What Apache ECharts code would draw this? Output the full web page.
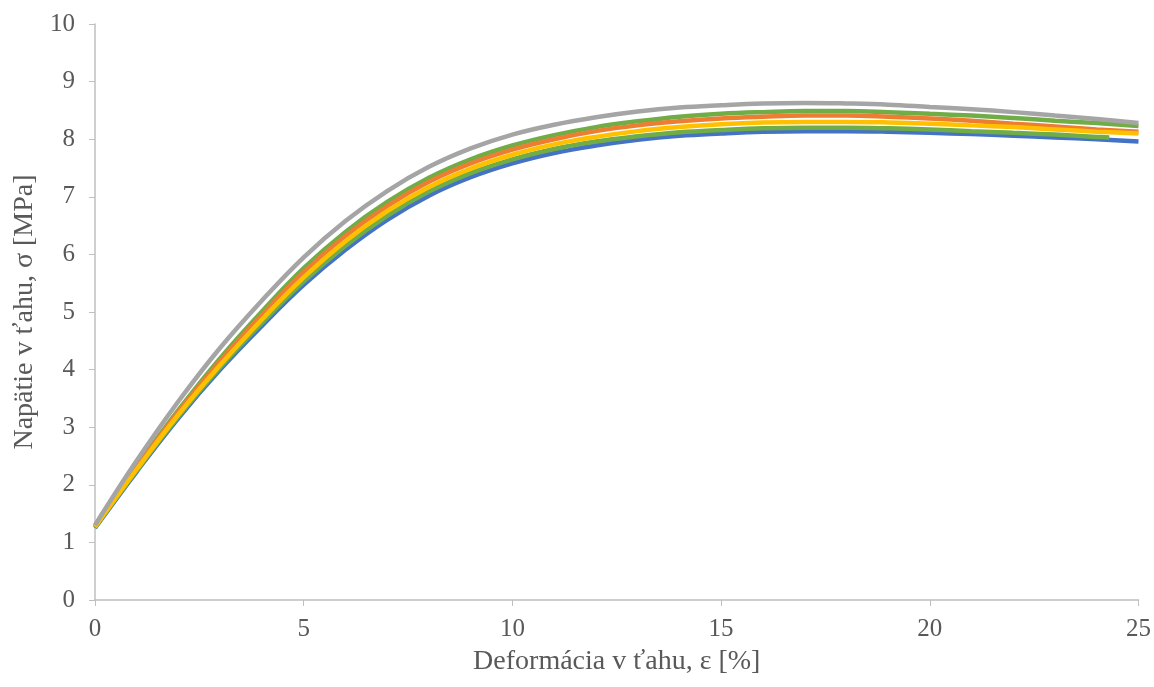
<!DOCTYPE html>
<html>
<head>
<meta charset="utf-8">
<script src="https://cdn.jsdelivr.net/npm/echarts@6/dist/echarts.min.js"></script>
<style>html,body{margin:0;padding:0;background:#fff}#c{width:1154px;height:687px}</style>
</head>
<body>
<div id="c"></div>
<script>
var strain = [0,1,2,3,4,5,6,7,8,9,10,11,12,13,14,15,16,17,18,19,20,21,22,23,24,25];
var strainShort = [0,1,2,3,4,5,6,7,8,9,10,11,12,13,14,15,16,17,18,19,20,21,22,23,24,24.3];
var blue   = [1.25,2.23,3.16,4.0,4.76,5.47,6.08,6.6,7.02,7.34,7.58,7.76,7.89,7.99,8.06,8.1,8.13,8.14,8.14,8.13,8.11,8.09,8.06,8.03,8.0,7.96];
var green2 = [1.26,2.25,3.19,4.04,4.81,5.53,6.15,6.67,7.09,7.41,7.65,7.83,7.96,8.05,8.12,8.16,8.19,8.2,8.2,8.19,8.17,8.14,8.11,8.08,8.04,8.03];
var yellow = [1.27,2.27,3.22,4.08,4.87,5.6,6.23,6.75,7.17,7.49,7.73,7.91,8.04,8.14,8.21,8.26,8.29,8.3,8.3,8.29,8.27,8.24,8.21,8.17,8.13,8.1];
var orange = [1.28,2.3,3.27,4.15,4.95,5.69,6.32,6.84,7.26,7.58,7.82,8.0,8.14,8.24,8.31,8.36,8.39,8.41,8.41,8.39,8.36,8.32,8.27,8.22,8.17,8.13];
var green1 = [1.28,2.32,3.3,4.2,5.01,5.76,6.39,6.91,7.33,7.65,7.89,8.07,8.21,8.31,8.39,8.44,8.47,8.49,8.49,8.47,8.44,8.41,8.37,8.32,8.28,8.23];
var gray   = [1.3,2.42,3.45,4.38,5.2,5.95,6.58,7.1,7.52,7.84,8.08,8.25,8.38,8.48,8.55,8.59,8.62,8.63,8.62,8.6,8.56,8.52,8.47,8.41,8.35,8.28];
var xTicks = {min:0, max:25, interval:5};
var yTicks = {min:0, max:10, interval:1};

function pairs(xs, ys){ return xs.map(function(x,i){ return [x, ys[i]]; }); }
function ser(name, xs, ys, color){
  return {name:name, type:'line', data:pairs(xs, ys), smooth:0.4, showSymbol:false,
    lineStyle:{color:color, width:4.5}, itemStyle:{color:color}};
}
var font = '"Liberation Serif","Times New Roman",serif';
var chart = echarts.init(document.getElementById('c'));
chart.setOption({
  animation:false,
  backgroundColor:'#ffffff',
  grid:{left:95, right:15, top:24, bottom:87},
  xAxis:{type:'value', min:xTicks.min, max:xTicks.max, interval:xTicks.interval,
    name:'Deformácia v ťahu, ε [%]', nameLocation:'middle', nameGap:48,
    nameTextStyle:{fontFamily:font, fontSize:28, color:'#595959'},
    axisLine:{show:true, lineStyle:{color:'#BFBFBF', width:1.5}},
    axisTick:{show:true, inside:false, length:6, lineStyle:{color:'#BFBFBF'}},
    axisLabel:{fontFamily:font, fontSize:25, color:'#595959', margin:17},
    splitLine:{show:false}},
  yAxis:{type:'value', min:yTicks.min, max:yTicks.max, interval:yTicks.interval,
    name:'Napätie v ťahu, σ [MPa]', nameLocation:'middle', nameGap:52, nameRotate:90,
    nameTextStyle:{fontFamily:font, fontSize:28, color:'#595959'},
    axisLine:{show:true, lineStyle:{color:'#BFBFBF', width:1.5}},
    axisTick:{show:true, inside:false, length:6, lineStyle:{color:'#BFBFBF'}},
    axisLabel:{fontFamily:font, fontSize:25, color:'#595959', margin:20},
    splitLine:{show:false}},
  series:[
    ser('1', strain, blue, '#4472C4'),
    ser('2', strainShort, green2, '#70AD47'),
    ser('5', strain, green1, '#70AD47'),
    ser('4', strain, orange, '#ED7D31'),
    ser('3', strain, yellow, '#FFC000'),
    ser('6', strain, gray, '#A5A5A5')
  ]
});
</script>
</body>
</html>
